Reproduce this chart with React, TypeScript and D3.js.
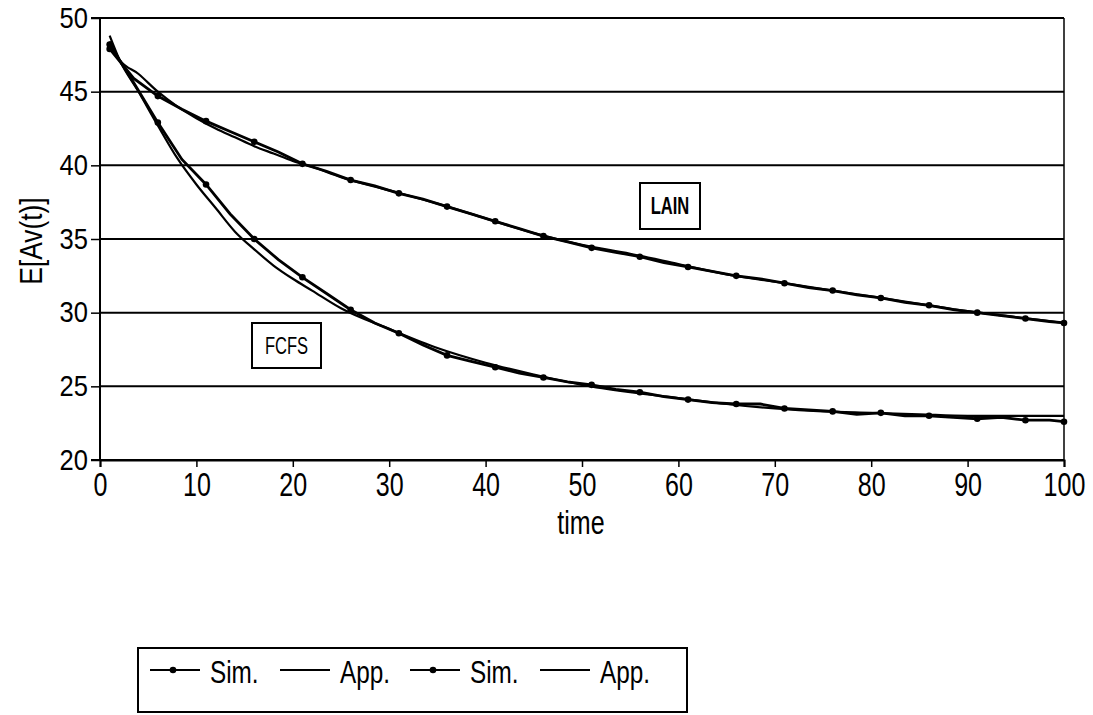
import * as d3 from 'd3';
import React, {useEffect} from 'react';

// simulation samples (time, value)
const simTimes = [1, 3.5, 6, 8.5, 11, 13.5, 16, 18.5, 21, 23.5, 26, 28.5, 31, 33.5, 36, 38.5, 41, 43.5, 46, 48.5,
  51, 53.5, 56, 58.5, 61, 63.5, 66, 68.5, 71, 73.5, 76, 78.5, 81, 83.5, 86, 88.5, 91, 93.5, 96, 98.5, 100];

const simFCFS = [48.2, 45.6, 42.9, 40.4, 38.7, 36.7, 35.0, 33.6, 32.4, 31.3, 30.2, 29.3, 28.6, 27.8, 27.1, 26.7, 26.3, 25.9, 25.6, 25.3,
  25.1, 24.8, 24.6, 24.3, 24.1, 23.9, 23.8, 23.8, 23.5, 23.4, 23.3, 23.1, 23.2, 23.0, 23.0, 22.9, 22.8, 22.9, 22.7, 22.7, 22.6];

const simLAIN = [47.9, 45.9, 44.7, 43.8, 43.0, 42.3, 41.6, 40.9, 40.1, 39.6, 39.0, 38.6, 38.1, 37.7, 37.2, 36.7, 36.2, 35.7, 35.2, 34.8,
  34.4, 34.1, 33.8, 33.4, 33.1, 32.8, 32.5, 32.3, 32.0, 31.7, 31.5, 31.2, 31.0, 30.7, 30.5, 30.2, 30.0, 29.8, 29.6, 29.4, 29.3];

// approximation curves
const appTimes = [1, 2, 4, 6, 8, 10, 12, 14, 16, 18, 20, 22, 25, 30, 35, 40, 45, 50, 55, 60, 65, 70, 75, 80, 85, 90, 95, 100];

const appFCFS = [48.8, 47.2, 45.0, 42.7, 40.5, 38.7, 37.1, 35.5, 34.3, 33.2, 32.3, 31.5, 30.3, 28.9, 27.6, 26.6, 25.8, 25.1,
  24.6, 24.2, 23.8, 23.5, 23.3, 23.2, 23.1, 23.0, 23.0, 23.0];

const appLAIN = [48.4, 47.2, 46.2, 45.0, 44.0, 43.2, 42.5, 41.9, 41.3, 40.8, 40.3, 39.9, 39.2, 38.3, 37.4, 36.4, 35.4, 34.6,
  34.0, 33.3, 32.6, 32.1, 31.6, 31.1, 30.6, 30.1, 29.7, 29.3];

const xTicks = [0, 10, 20, 30, 40, 50, 60, 70, 80, 90, 100];
const yTicks = [20, 25, 30, 35, 40, 45, 50];
const legendLabels = ['Sim.', 'App.', 'Sim.', 'App.'];

const FONT = "'Liberation Sans', Arial, Helvetica, sans-serif";

export default function App() {
  const chartRef: React.RefObject<SVGSVGElement> = React.createRef();

  const initChart = () => {
    const svg = d3.select(chartRef.current);
    svg.selectAll('*').remove();

    const x = d3.scaleLinear().domain([0, 100]).range([100, 1064]);
    const y = d3.scaleLinear().domain([20, 50]).range([460, 18]);

    // condensed text helper (the original uses a narrow sans face)
    const narrowText = (parent: any, tx: number, ty: number, txt: string, size: number,
                        anchor = 'start', squeeze = 0.76, rotate = 0) =>
      parent.append('text')
        .attr('transform', `translate(${tx},${ty}) rotate(${rotate}) scale(${squeeze},1)`)
        .attr('text-anchor', anchor)
        .style('font-family', FONT).style('font-size', `${size}px`)
        .attr('fill', '#000')
        .text(txt);

    // horizontal grid
    svg.append('g')
      .selectAll('line')
      .data(yTicks)
      .enter()
      .append('line')
      .attr('x1', x(0)).attr('x2', x(100))
      .attr('y1', d => y(d)).attr('y2', d => y(d))
      .attr('stroke', '#000').attr('stroke-width', 2);

    // right frame side
    svg.append('line').attr('x1', x(100)).attr('x2', x(100)).attr('y1', y(50)).attr('y2', y(20))
      .attr('stroke', '#000').attr('stroke-width', 1.5);

    const yAxis = svg.append('g')
      .attr('transform', `translate(${x(0)},0)`)
      .call(d3.axisLeft(y).tickValues(yTicks).tickSize(9).tickPadding(3));
    const xAxis = svg.append('g')
      .attr('transform', `translate(0,${y(20)})`)
      .call(d3.axisBottom(x).tickValues(xTicks).tickSize(7).tickPadding(6));

    [yAxis, xAxis].forEach(ax => {
      ax.select('.domain').attr('stroke', '#000').attr('stroke-width', 2);
      ax.selectAll('line').attr('stroke', '#000').attr('stroke-width', 1.5);
      ax.selectAll('text')
        .attr('fill', '#000')
        .style('font-family', FONT);
    });
    yAxis.select('.domain').attr('d', `M-9,${y(50)}H0V${y(20)}H-9`);
    yAxis.selectAll('text')
      .style('font-size', '29px')
      .attr('x', -12 / 0.88)
      .attr('transform', 'scale(0.88,1)');
    xAxis.selectAll('text')
      .style('font-size', '33px')
      .attr('transform', 'scale(0.76,1)');

    // axis titles
    narrowText(svg, x(50) - 1, 534, 'time', 33, 'middle', 0.76);
    narrowText(svg, 42, y(35) + 2, 'E[Av(t)]', 31, 'middle', 0.85, -90);

    const line = d3.line<[number, number]>()
      .x(d => x(d[0]))
      .y(d => y(d[1]))
      .curve(d3.curveMonotoneX);

    const appSeries = [appFCFS, appLAIN];
    const simSeries = [simFCFS, simLAIN];

    appSeries.forEach(vals => {
      svg.append('path')
        .datum(appTimes.map((t, i) => [t, vals[i]] as [number, number]))
        .attr('fill', 'none').attr('stroke', '#000').attr('stroke-width', 2.2)
        .attr('d', line);
    });

    simSeries.forEach(vals => {
      const pts = simTimes.map((t, i) => [t, vals[i]] as [number, number]);
      svg.append('path')
        .datum(pts)
        .attr('fill', 'none').attr('stroke', '#000').attr('stroke-width', 2.8)
        .attr('d', d3.line<[number, number]>().x(d => x(d[0])).y(d => y(d[1])));
      svg.append('g')
        .selectAll('circle')
        .data(pts.filter((_, i) => i % 2 === 0))
        .enter()
        .append('circle')
        .attr('cx', d => x(d[0])).attr('cy', d => y(d[1]))
        .attr('r', 3.3).attr('fill', '#000');
    });

    // curve labels
    const labels: Array<[string, number, number, number, number, string]> = [
      ['LAIN', 640, 183, 60, 46, 'bold'],
      ['FCFS', 252, 323, 69, 45, 'normal']
    ];
    labels.forEach(([txt, bx, by, bw, bh, weight]) => {
      svg.append('rect')
        .attr('x', bx).attr('y', by).attr('width', bw).attr('height', bh)
        .attr('fill', '#fff').attr('stroke', '#000').attr('stroke-width', 2);
      narrowText(svg, bx + bw / 2, by + bh / 2 + 8, txt, 23, 'middle', 0.72)
        .style('font-weight', weight);
    });

    // legend
    const legend = svg.append('g');
    legend.append('rect')
      .attr('x', 138).attr('y', 648).attr('width', 549).attr('height', 64)
      .attr('fill', '#fff').attr('stroke', '#000').attr('stroke-width', 2);
    const itemX = [150, 280, 410, 540];
    legendLabels.forEach((lab, i) => {
      const lx = itemX[i];
      legend.append('line')
        .attr('x1', lx).attr('x2', lx + 50).attr('y1', 670).attr('y2', 670)
        .attr('stroke', '#000').attr('stroke-width', 2);
      if (lab === 'Sim.') {
        legend.append('circle').attr('cx', lx + 23).attr('cy', 670).attr('r', 3.3).attr('fill', '#000');
      }
      narrowText(legend, lx + 60, 683, lab, 32, 'start', 0.76);
    });
  };

  useEffect(() => {
    initChart();
  }, []);

  return (
    <svg ref={chartRef} width={1093} height={715}
      style={{position: 'absolute', left: 0, top: 0, background: '#fff'}}/>
  );
}
